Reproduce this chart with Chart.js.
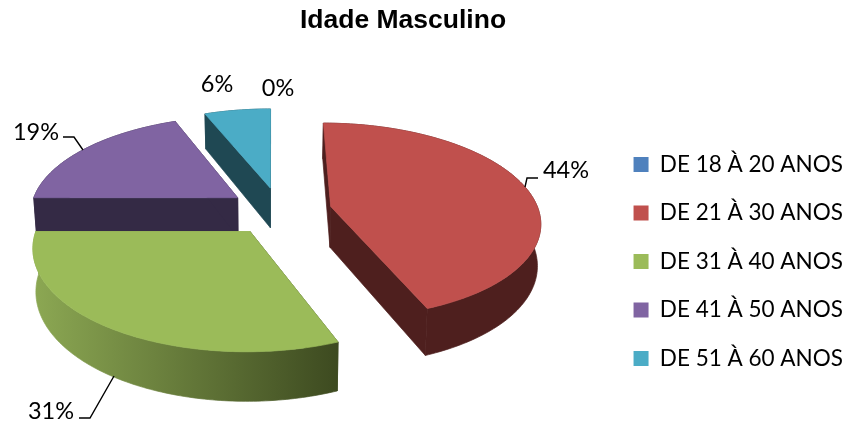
<!DOCTYPE html>
<html>
<head>
<meta charset="utf-8">
<title>Idade Masculino</title>
<script src="https://cdn.jsdelivr.net/npm/chart.js@4"></script>
<style>
  html, body { margin: 0; padding: 0; background: #fff; }
  #wrap { position: relative; width: 847px; height: 423px; }
</style>
</head>
<body>
<div id="wrap"><canvas id="myChart"></canvas></div>
<script>
'use strict';

const categories = ['DE 18 À 20 ANOS', 'DE 21 À 30 ANOS', 'DE 31 À 40 ANOS', 'DE 41 À 50 ANOS', 'DE 51 À 60 ANOS'];
const percentages = [0, 44, 31, 19, 6];
const topColors = ['#4f81bd', '#c0504d', '#9bbb59', '#8064a2', '#4bacc6'];
const wallLeftColors = ['#2a4565', '#4e1f1e', '#8ca853', '#342a45', '#1f4853'];
const wallRightColors = ['#2a4565', '#4e1f1e', '#3d4a20', '#342a45', '#1f4853'];

// where each percent label sits, and the leader line that goes with it (if any)
const labelSpots = [
  { x: 278, y: 88 },
  { x: 566, y: 170, leader: [[525, 187], [527, 178], [538, 178]] },
  { x: 51, y: 411, leader: [[114, 376], [90, 418], [79, 418]] },
  { x: 36, y: 132, leader: [[83, 150], [74, 137], [63, 137]] },
  { x: 217, y: 84 }
];

// pie projection settings
const centerX = 280, centerY = 211;
const vanishX = 272;
const radius = 208;
const squash = 0.464;
const perspective = 0.143;
const depth = 41;
const bottomShrink = 0.0125;
const explode = 52;

let project = (X, Y, Z) => {
  let f = 1 / (1 - perspective * Y / radius);
  let shrink = 1 - bottomShrink * Z / depth;
  return {
    x: vanishX + (centerX - vanishX + X) * f * shrink,
    y: centerY + squash * Y * f + Z * f
  };
};

let tracePoints = (ctx, points) => {
  ctx.beginPath();
  points.forEach((p, i) => i ? ctx.lineTo(p.x, p.y) : ctx.moveTo(p.x, p.y));
  ctx.closePath();
};

// fill plus a hairline of the same paint, closes the seams between faces
let paintFace = (ctx, points, paint) => {
  ctx.fillStyle = paint;
  ctx.strokeStyle = paint;
  ctx.lineWidth = 0.7;
  tracePoints(ctx, points);
  ctx.fill();
  ctx.stroke();
};

// draws one slice as a solid: side faces first, then the lid
let drawSlice = (ctx, arc, i) => {
  let start = arc.startAngle, end = arc.endAngle;
  if (end - start < 0.001) return;
  let mid = (start + end) / 2;
  let offset = arc.options.offset;
  let ox = Math.cos(mid) * offset, oy = Math.sin(mid) * offset;

  let rimAt = (z) => {
    let pts = [];
    let steps = Math.ceil((end - start) * 60);
    for (let s = 0; s <= steps; s++) {
      let a = start + (end - start) * s / steps;
      pts.push(project(ox + radius * Math.cos(a), oy + radius * Math.sin(a), z));
    }
    return pts;
  };
  let rimTop = rimAt(0), rimBottom = rimAt(depth);
  let tipTop = project(ox, oy, 0), tipBottom = project(ox, oy, depth);

  // flat cut faces
  paintFace(ctx, [tipTop, rimTop[0], rimBottom[0], tipBottom], wallRightColors[i]);
  paintFace(ctx, [tipTop, rimTop[rimTop.length - 1], rimBottom[rimBottom.length - 1], tipBottom], wallLeftColors[i]);

  // curved outer wall, shaded left to right
  let xs = rimTop.map(p => p.x);
  let gradient = ctx.createLinearGradient(Math.min(...xs), 0, Math.max(...xs), 0);
  gradient.addColorStop(0, wallLeftColors[i]);
  gradient.addColorStop(1, wallRightColors[i]);
  paintFace(ctx, rimTop.concat(rimBottom.slice().reverse()), gradient);

  paintFace(ctx, [tipTop].concat(rimTop), arc.options.backgroundColor);
};

let pie3d = {
  id: 'pie3d',
  afterLayout(chart) {
    // title sits over the plot, legend moves down beside the pie
    chart.titleBlock.left -= 20.5;
    chart.titleBlock.right -= 20.5;
    chart.legend.top += 50;
    chart.legend.bottom += 50;
    chart.legend.left += 6;
  },
  beforeDatasetDraw(chart, args) {
    let ctx = chart.ctx;
    let arcs = args.meta.data;
    // back to front, so nearer slices cover what is behind them
    let order = arcs.map((arc, i) => i).sort((a, b) => {
      let depthOf = (arc) => Math.sin((arc.startAngle + arc.endAngle) / 2);
      return depthOf(arcs[a]) - depthOf(arcs[b]);
    });
    ctx.save();
    order.forEach(i => drawSlice(ctx, arcs[i], i));
    ctx.restore();
    return false;
  },
  afterDatasetsDraw(chart) {
    let ctx = chart.ctx;
    ctx.save();
    ctx.font = '23.5px Lato';
    ctx.fillStyle = '#000';
    ctx.strokeStyle = '#000';
    ctx.lineWidth = 1.4;
    ctx.textAlign = 'center';
    ctx.textBaseline = 'middle';
    percentages.forEach((value, i) => {
      let spot = labelSpots[i];
      ctx.fillText(value + '%', spot.x, spot.y);
      if (spot.leader) {
        ctx.beginPath();
        spot.leader.forEach((p, n) => n ? ctx.lineTo(p[0], p[1]) : ctx.moveTo(p[0], p[1]));
        ctx.stroke();
      }
    });
    ctx.restore();
  }
};

let myChart = new Chart(document.getElementById('myChart').getContext('2d'), {
  type: 'pie',
  data: {
    labels: categories,
    datasets: [{
      data: percentages,
      backgroundColor: topColors,
      borderWidth: 0,
      offset: explode
    }]
  },
  options: {
    responsive: true,
    maintainAspectRatio: false,
    animation: false,
    rotation: 0,
    events: [],
    plugins: {
      title: {
        display: true,
        text: 'Idade Masculino',
        color: '#000',
        font: { family: 'Liberation Sans', size: 26.5, weight: 'bold' },
        padding: { top: 5, bottom: 45 }
      },
      legend: {
        position: 'right',
        labels: {
          boxWidth: 15,
          boxHeight: 15,
          padding: 26,
          color: '#000',
          font: { family: 'Lato', size: 22.5 }
        }
      },
      tooltip: { enabled: false }
    }
  },
  plugins: [pie3d]
});
</script>
</body>
</html>
